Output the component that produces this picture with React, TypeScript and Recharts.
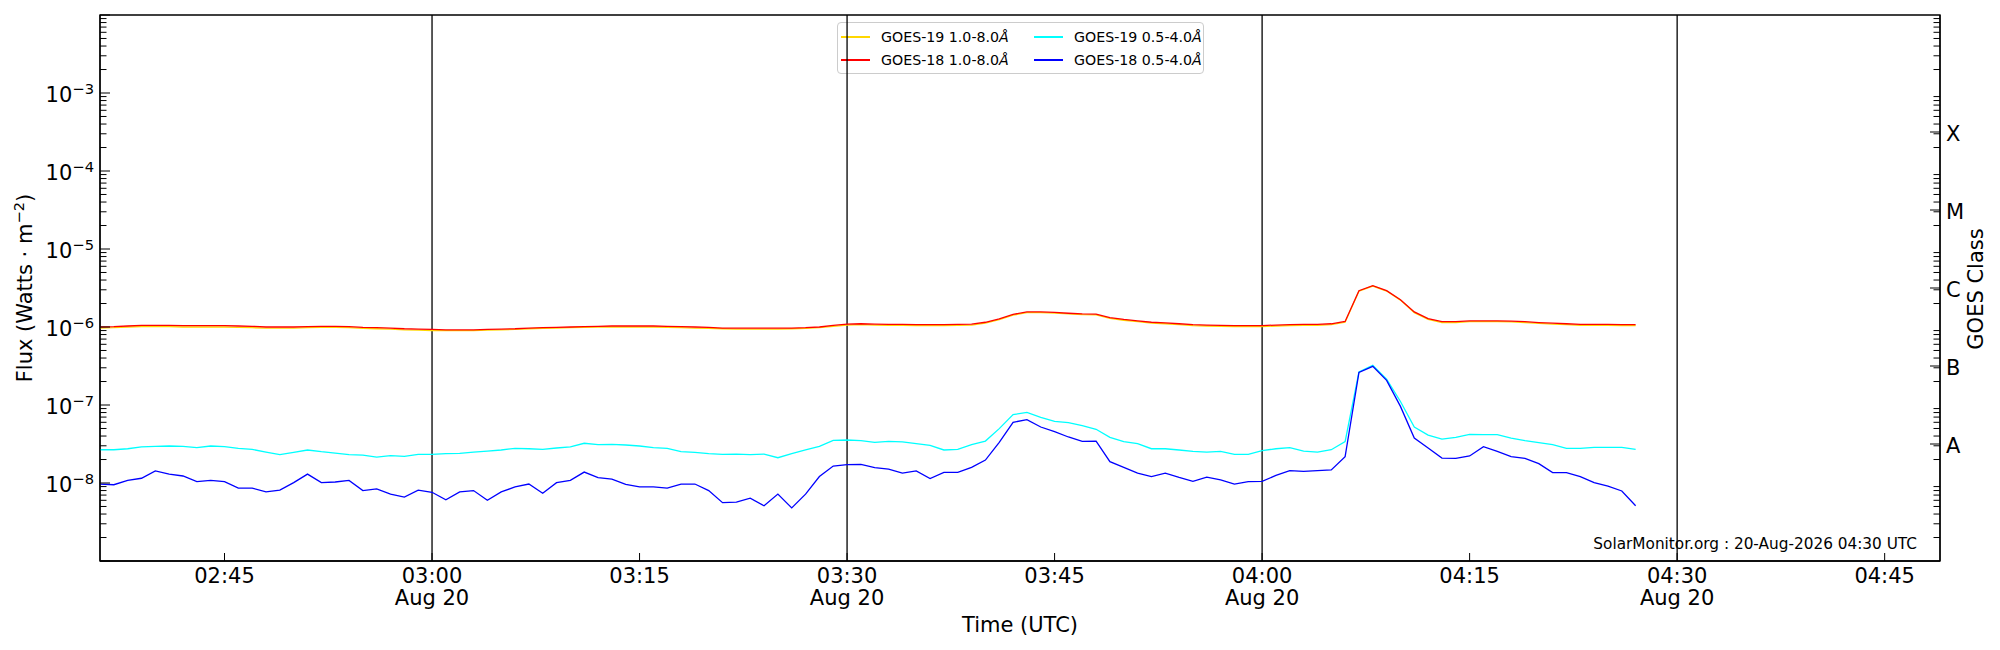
import { LineChart, Line, XAxis, YAxis, CartesianGrid, ReferenceLine, ReferenceArea } from 'recharts';

const FONT = '"DejaVu Sans", sans-serif';
const FS = 21;
const SUP = 14.7;

// one sample per minute, 02:36 .. 04:27 UTC
const times = [
  '02:36', '02:37', '02:38', '02:39', '02:40', '02:41', '02:42', '02:43', '02:44', '02:45',
  '02:46', '02:47', '02:48', '02:49', '02:50', '02:51', '02:52', '02:53', '02:54', '02:55',
  '02:56', '02:57', '02:58', '02:59', '03:00', '03:01', '03:02', '03:03', '03:04', '03:05',
  '03:06', '03:07', '03:08', '03:09', '03:10', '03:11', '03:12', '03:13', '03:14', '03:15',
  '03:16', '03:17', '03:18', '03:19', '03:20', '03:21', '03:22', '03:23', '03:24', '03:25',
  '03:26', '03:27', '03:28', '03:29', '03:30', '03:31', '03:32', '03:33', '03:34', '03:35',
  '03:36', '03:37', '03:38', '03:39', '03:40', '03:41', '03:42', '03:43', '03:44', '03:45',
  '03:46', '03:47', '03:48', '03:49', '03:50', '03:51', '03:52', '03:53', '03:54', '03:55',
  '03:56', '03:57', '03:58', '03:59', '04:00', '04:01', '04:02', '04:03', '04:04', '04:05',
  '04:06', '04:07', '04:08', '04:09', '04:10', '04:11', '04:12', '04:13', '04:14', '04:15',
  '04:16', '04:17', '04:18', '04:19', '04:20', '04:21', '04:22', '04:23', '04:24', '04:25',
  '04:26', '04:27',
];

// 1.0-8.0 A channels, in units of 1e-6 W/m2
const goes19Long = [
  0.97, 0.98, 1.00, 1.01, 1.01, 1.01, 1.00, 1.00, 1.00, 1.00,
  0.99, 0.98, 0.97, 0.97, 0.97, 0.98, 0.99, 0.99, 0.98, 0.96,
  0.95, 0.94, 0.92, 0.91, 0.90, 0.90, 0.90, 0.90, 0.91, 0.92,
  0.93, 0.95, 0.96, 0.97, 0.98, 0.99, 1.00, 1.00, 1.00, 1.00,
  1.00, 0.99, 0.98, 0.97, 0.96, 0.95, 0.94, 0.94, 0.94, 0.94,
  0.95, 0.96, 0.98, 1.02, 1.06, 1.07, 1.06, 1.05, 1.05, 1.04,
  1.04, 1.04, 1.05, 1.06, 1.12, 1.24, 1.42, 1.53, 1.53, 1.51,
  1.47, 1.44, 1.43, 1.29, 1.22, 1.17, 1.12, 1.10, 1.07, 1.04,
  1.03, 1.02, 1.01, 1.01, 1.01, 1.03, 1.04, 1.05, 1.05, 1.07,
  1.15, 2.88, 3.35, 2.89, 2.21, 1.53, 1.25, 1.14, 1.14, 1.17,
  1.17, 1.17, 1.16, 1.14, 1.11, 1.09, 1.07, 1.05, 1.05, 1.05,
  1.04, 1.04,
];

const goes18Long = [
  1.00, 1.01, 1.03, 1.05, 1.05, 1.05, 1.04, 1.04, 1.04, 1.04,
  1.03, 1.02, 1.00, 1.00, 1.00, 1.01, 1.02, 1.02, 1.01, 0.99,
  0.98, 0.97, 0.95, 0.94, 0.93, 0.92, 0.92, 0.92, 0.93, 0.94,
  0.95, 0.97, 0.98, 0.99, 1.00, 1.01, 1.02, 1.03, 1.03, 1.03,
  1.03, 1.02, 1.01, 1.00, 0.99, 0.97, 0.97, 0.97, 0.97, 0.97,
  0.97, 0.98, 1.00, 1.05, 1.09, 1.10, 1.09, 1.08, 1.08, 1.07,
  1.07, 1.07, 1.08, 1.09, 1.15, 1.27, 1.45, 1.56, 1.56, 1.54,
  1.50, 1.47, 1.46, 1.32, 1.25, 1.20, 1.15, 1.13, 1.10, 1.07,
  1.06, 1.05, 1.04, 1.04, 1.04, 1.06, 1.07, 1.08, 1.08, 1.10,
  1.18, 2.92, 3.39, 2.92, 2.24, 1.56, 1.28, 1.17, 1.17, 1.20,
  1.20, 1.20, 1.19, 1.17, 1.14, 1.12, 1.10, 1.08, 1.08, 1.08,
  1.07, 1.07,
];

// 0.5-4.0 A channels, in units of 1e-8 W/m2
const goes19Short = [
  2.67, 2.67, 2.75, 2.90, 2.95, 2.98, 2.95, 2.84, 2.98, 2.92,
  2.78, 2.70, 2.49, 2.31, 2.47, 2.65, 2.52, 2.42, 2.31, 2.28,
  2.15, 2.24, 2.20, 2.33, 2.33, 2.38, 2.40, 2.49, 2.57, 2.65,
  2.78, 2.75, 2.70, 2.81, 2.90, 3.23, 3.10, 3.13, 3.07, 2.98,
  2.84, 2.78, 2.52, 2.47, 2.38, 2.33, 2.35, 2.31, 2.35, 2.11,
  2.38, 2.65, 2.95, 3.52, 3.56, 3.49, 3.32, 3.42, 3.36, 3.19,
  3.04, 2.65, 2.70, 3.10, 3.45, 4.98, 7.52, 8.05, 6.95, 6.18,
  5.94, 5.43, 4.88, 3.85, 3.39, 3.19, 2.75, 2.75, 2.65, 2.55,
  2.49, 2.55, 2.33, 2.33, 2.60, 2.75, 2.84, 2.57, 2.49, 2.67,
  3.39, 26.5, 32.3, 21.5, 11.1, 5.22, 4.12, 3.66, 3.85, 4.21,
  4.17, 4.17, 3.77, 3.49, 3.29, 3.10, 2.78, 2.78, 2.86, 2.86,
  2.86, 2.70,
];

const goes18Short = [
  0.97, 0.95, 1.08, 1.15, 1.43, 1.30, 1.23, 1.04, 1.08, 1.04,
  0.86, 0.86, 0.77, 0.81, 1.01, 1.30, 1.01, 1.03, 1.08, 0.80,
  0.84, 0.72, 0.66, 0.81, 0.76, 0.61, 0.77, 0.80, 0.60, 0.77,
  0.89, 0.97, 0.74, 1.01, 1.08, 1.38, 1.17, 1.12, 0.96, 0.89,
  0.89, 0.86, 0.97, 0.97, 0.80, 0.56, 0.57, 0.64, 0.51, 0.72,
  0.48, 0.72, 1.21, 1.65, 1.72, 1.73, 1.57, 1.51, 1.34, 1.43,
  1.14, 1.37, 1.37, 1.59, 1.97, 3.32, 6.00, 6.49, 5.22, 4.55,
  3.89, 3.42, 3.45, 1.88, 1.59, 1.34, 1.21, 1.34, 1.18, 1.05,
  1.19, 1.10, 0.97, 1.04, 1.05, 1.25, 1.44, 1.41, 1.44, 1.47,
  2.18, 26.2, 31.3, 20.7, 9.60, 3.78, 2.81, 2.09, 2.07, 2.22,
  2.92, 2.55, 2.18, 2.07, 1.77, 1.36, 1.36, 1.21, 1.01, 0.91,
  0.79, 0.51,
];

const seriesNames = ['GOES-19 1.0-8.0', 'GOES-18 1.0-8.0', 'GOES-19 0.5-4.0', 'GOES-18 0.5-4.0'];
const seriesKeys = ['g19l', 'g18l', 'g19s', 'g18s'];
const seriesColors = ['#ffd700', '#ff0000', '#00ffff', '#0000ff'];

const timeTicks = ['02:45', '03:00', '03:15', '03:30', '03:45', '04:00', '04:15', '04:30', '04:45'];
const dateTicks = ['03:00', '03:30', '04:00', '04:30'];
const dateLabel = 'Aug 20';
const timeDomain = ['02:36', '04:49'];

const fluxLabelExps = [-3, -4, -5, -6, -7, -8];
const fluxDomain = [1e-9, 1e-2];
const classLabels = ['A', 'B', 'C', 'M', 'X'];
const classTicks = [3.162e-8, 3.162e-7, 3.162e-6, 3.162e-5, 3.162e-4];

const stamp = 'SolarMonitor.org : 20-Aug-2026 04:30 UTC';

const toMin = (s: string) => {
  const [h, m] = s.split(':').map(Number);
  return h * 60 + m;
};
const fromMin = (v: number) =>
  `${String(Math.floor(v / 60)).padStart(2, '0')}:${String(v % 60).padStart(2, '0')}`;

const data = times.map((s, i) => ({
  t: toMin(s),
  g19l: goes19Long[i] * 1e-6,
  g18l: goes18Long[i] * 1e-6,
  g19s: goes19Short[i] * 1e-8,
  g18s: goes18Short[i] * 1e-8,
}));

// log minor ticks 2..9 in every decade of the axis
const minorTicks: number[] = [];
for (let e = -9; e < -2; e++) for (let m = 2; m <= 9; m++) minorTicks.push(m * Math.pow(10, e));
const decadeTicks = [-9, -8, -7, -6, -5, -4, -3, -2].map((e) => Math.pow(10, e));

const isDecade = (v: number) => Math.abs(Math.log10(v) - Math.round(Math.log10(v))) < 1e-6;

function FluxTick({ x, y, payload }: any) {
  const v = payload.value;
  const major = isDecade(v);
  const exp = Math.round(Math.log10(v));
  return (
    <g>
      <line x1={x} x2={x + (major ? 10 : 6.5)} y1={y} y2={y} stroke="#000" strokeWidth={1} />
      {major && fluxLabelExps.includes(exp) && (
        <text x={x - 6} y={y + 9} textAnchor="end" fontSize={FS} fontFamily={FONT} fill="#000">
          10<tspan dy={-8.5} fontSize={SUP}>{'\u2212' + -exp}</tspan>
        </text>
      )}
    </g>
  );
}

function ClassTick({ x, y, payload }: any) {
  const idx = classTicks.indexOf(payload.value);
  return (
    <g>
      <line x1={x} x2={x - (idx >= 0 ? 10 : 6.5)} y1={y} y2={y} stroke="#000" strokeWidth={1} />
      {idx >= 0 && (
        <text x={x + 6} y={y + 9} textAnchor="start" fontSize={FS} fontFamily={FONT} fill="#000">
          {classLabels[idx]}
        </text>
      )}
    </g>
  );
}

function TimeTick({ x, y, payload }: any) {
  const label = fromMin(payload.value);
  return (
    <g>
      <line x1={x} x2={x} y1={y} y2={y - 8} stroke="#000" strokeWidth={1} />
      <text x={x} y={y + 21.5} textAnchor="middle" fontSize={FS} fontFamily={FONT} fill="#000">
        {label}
      </text>
      {dateTicks.includes(label) && (
        <text x={x} y={y + 43.5} textAnchor="middle" fontSize={FS} fontFamily={FONT} fill="#000">
          {dateLabel}
        </text>
      )}
    </g>
  );
}

function Title({ px, py, rot, children }: any) {
  return (
    <text
      x={0}
      y={0}
      transform={`translate(${px},${py}) rotate(${rot || 0})`}
      textAnchor="middle"
      fontSize={FS}
      fontFamily={FONT}
      fill="#000"
    >
      {children}
    </text>
  );
}

function Stamp({ viewBox }: any) {
  return (
    <text
      x={viewBox.x + viewBox.width - 23}
      y={viewBox.y + viewBox.height - 12}
      textAnchor="end"
      fontSize={15.3}
      fontFamily={FONT}
      fill="#000"
    >
      {stamp}
    </text>
  );
}

function LegendBox() {
  const cols = [
    [0, 1],
    [2, 3],
  ];
  return (
    <div
      style={{
        position: 'absolute',
        left: 837,
        top: 22,
        width: 367,
        height: 52,
        boxSizing: 'border-box',
        border: '1px solid #cccccc',
        borderRadius: 4,
        background: 'rgba(255,255,255,0.8)',
        fontFamily: FONT,
        fontSize: 14.2,
        color: '#000',
        zIndex: 0,
      }}
    >
      {cols.map((col, c) =>
        col.map((si, r) => (
          <div
            key={si}
            style={{
              position: 'absolute',
              left: c === 0 ? 3 : 196,
              top: r === 0 ? 4 : 27,
              height: 20,
              display: 'flex',
              alignItems: 'center',
              whiteSpace: 'nowrap',
            }}
          >
            <span style={{ display: 'inline-block', width: 29, height: 1.3, background: seriesColors[si] }} />
            <span style={{ marginLeft: 11 }}>
              {seriesNames[si]}
              <i>Å</i>
            </span>
          </div>
        ))
      )}
    </div>
  );
}

export default function App() {
  return (
    <div style={{ position: 'absolute', left: 0, top: 0, width: 2000, height: 650, background: '#fff' }}>
      <LegendBox />
      <div style={{ position: 'absolute', left: 0, top: 0, zIndex: 1 }}>
        <LineChart width={2000} height={650} data={data} margin={{ top: 15, right: 0, bottom: 0, left: 0 }}>
          <CartesianGrid
            vertical={false}
            horizontalValues={fluxLabelExps.map((e) => Math.pow(10, e))}
            stroke="#b0b0b0"
            strokeWidth={1}
          />
          <XAxis
            dataKey="t"
            type="number"
            domain={timeDomain.map(toMin)}
            allowDataOverflow
            ticks={timeTicks.map(toMin)}
            interval={0}
            tickLine={false}
            tickSize={0}
            tickMargin={0}
            axisLine={{ stroke: '#000', strokeWidth: 1.3 }}
            height={89}
            tick={<TimeTick />}
            label={<Title px={1020} py={632}>Time (UTC)</Title>}
          />
          <YAxis
            yAxisId="flux"
            scale="log"
            domain={fluxDomain}
            allowDataOverflow
            ticks={[...decadeTicks, ...minorTicks]}
            interval={0}
            width={100}
            tickLine={false}
            tickSize={0}
            tickMargin={0}
            axisLine={{ stroke: '#000', strokeWidth: 1.3 }}
            tick={<FluxTick />}
            label={
              <Title px={32} py={288} rot={-90}>
                Flux (Watts · m<tspan dy={-8.5} fontSize={SUP}>−2</tspan>
                <tspan dy={8.5}>)</tspan>
              </Title>
            }
          />
          <YAxis
            yAxisId="class"
            orientation="right"
            scale="log"
            domain={fluxDomain}
            allowDataOverflow
            ticks={[...classTicks, ...minorTicks]}
            interval={0}
            width={60}
            tickLine={false}
            tickSize={0}
            tickMargin={0}
            axisLine={{ stroke: '#000', strokeWidth: 1.3 }}
            tick={<ClassTick />}
            label={<Title px={1983} py={289} rot={-90}>GOES Class</Title>}
          />
          {dateTicks.map((s) => (
            <ReferenceLine key={s} yAxisId="flux" x={toMin(s)} stroke="#000" strokeWidth={1.3} />
          ))}
          <ReferenceArea
            yAxisId="flux"
            x1={toMin(timeDomain[0])}
            x2={toMin(timeDomain[1])}
            y1={fluxDomain[0]}
            y2={fluxDomain[1]}
            fill="none"
            stroke="#000"
            strokeWidth={1.3}
            label={<Stamp />}
          />
          {seriesKeys.map((k, i) => (
            <Line
              key={k}
              yAxisId="flux"
              type="linear"
              dataKey={k}
              name={seriesNames[i]}
              stroke={seriesColors[i]}
              strokeWidth={1.3}
              dot={false}
              activeDot={false}
              isAnimationActive={false}
            />
          ))}
        </LineChart>
      </div>
    </div>
  );
}
